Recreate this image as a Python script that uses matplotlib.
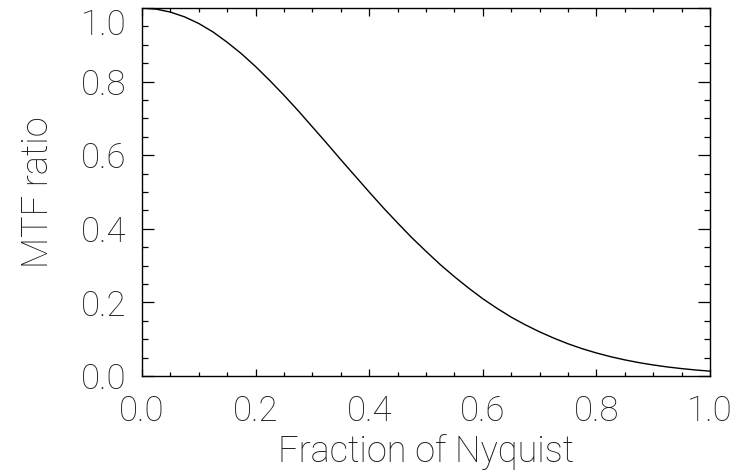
import matplotlib
matplotlib.use("Agg")
import matplotlib.pyplot as plt
from matplotlib.ticker import MultipleLocator

# MTF ratio, every 0.025 of Nyquist
frac_nyquist = [i * 0.025 for i in range(41)]
mtf_ratio = [
    1.000, 0.997, 0.989, 0.976, 0.958, 0.935, 0.907, 0.876, 0.841, 0.803,
    0.763, 0.721, 0.677, 0.633, 0.588, 0.544, 0.500, 0.457, 0.416, 0.376,
    0.339, 0.303, 0.270, 0.239, 0.210, 0.184, 0.160, 0.139, 0.120, 0.103,
    0.0876, 0.0742, 0.0626, 0.0525, 0.0438, 0.0363, 0.0300, 0.0246, 0.0201,
    0.0163, 0.0132,
]
x_ticks = [0.0, 0.2, 0.4, 0.6, 0.8, 1.0]
y_ticks = [0.0, 0.2, 0.4, 0.6, 0.8, 1.0]

# thin strokes, closest to the IDL vector font
plt.rcParams["font.family"] = ["Roboto", "DejaVu Sans"]
plt.rcParams["font.weight"] = "light"
text_color = "#1e1e1e"

fig = plt.figure(figsize=(7.46, 4.72), dpi=100)
ax = fig.add_axes([0.1903, 0.2034, 0.7614, 0.7796])

ax.plot(frac_nyquist, mtf_ratio, color="black", linewidth=1.0)

ax.set_xlim(0, 1)
ax.set_ylim(0, 1)
ax.set_xticks(x_ticks)
ax.set_yticks(y_ticks)
ax.set_xticklabels([f"{v:.1f}" for v in x_ticks])
ax.set_yticklabels([f"{v:.1f}" for v in y_ticks])
ax.xaxis.set_minor_locator(MultipleLocator(0.05))
ax.yaxis.set_minor_locator(MultipleLocator(0.05))

ax.tick_params(axis="both", which="both", direction="in",
               top=True, right=True, color="black", width=0.9,
               labelsize=25, labelcolor=text_color)
ax.tick_params(axis="x", which="major", length=5.4, pad=13)
ax.tick_params(axis="x", which="minor", length=2.7)
ax.tick_params(axis="y", which="major", length=8.3, pad=11)
ax.tick_params(axis="y", which="minor", length=4.2)

# keep the top y label inside the figure, as the reference does
top_label = ax.get_yticklabels()[-1]
top_label.set_verticalalignment("top")

for side in ax.spines.values():
    side.set_linewidth(1.0)
    side.set_color("black")

ax.set_xlabel("Fraction of Nyquist", fontsize=26, fontweight="light",
              color=text_color, labelpad=5)
ax.set_ylabel("MTF ratio", fontsize=26, fontweight="light",
              color=text_color, labelpad=18)

fig.savefig("out.png", dpi=100)
